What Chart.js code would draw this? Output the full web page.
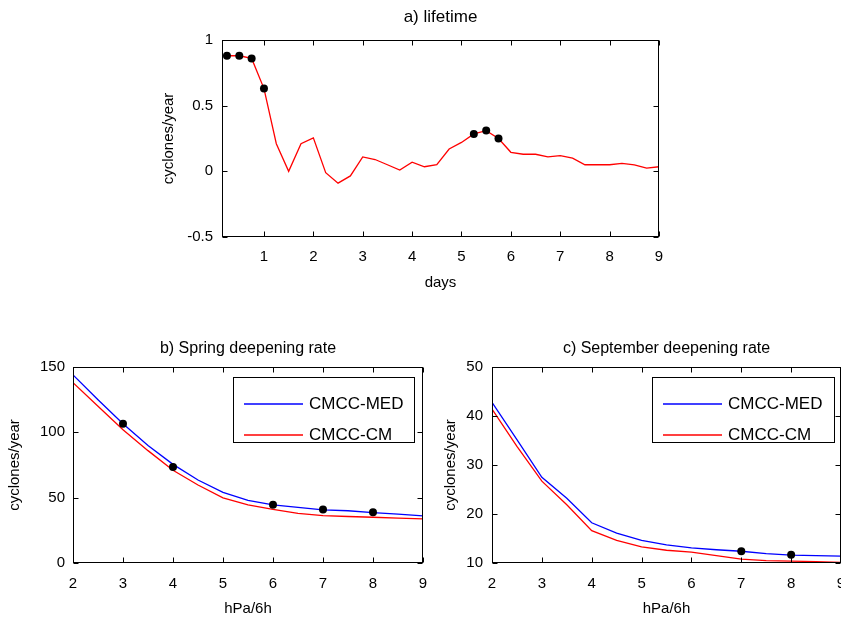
<!DOCTYPE html>
<html>
<head>
<meta charset="utf-8">
<script src="https://cdn.jsdelivr.net/npm/chart.js@4.4.1/dist/chart.umd.min.js"></script>
<style>
  html, body { margin: 0; padding: 0; background: #fff; overflow: hidden; }
  body { position: relative; width: 841px; height: 621px; }
  .panel { position: absolute; }
</style>
</head>
<body>
<div class="panel" style="left:150px; top:0px;"><canvas id="chartLifetime" width="520" height="300"></canvas></div>
<div class="panel" style="left:0px; top:330px;"><canvas id="chartSpring" width="430" height="291"></canvas></div>
<div class="panel" style="left:420px; top:330px;"><canvas id="chartSeptember" width="430" height="291"></canvas></div>

<script>
// === DADOS ===
// a) lifetime (passo de 6 h)
const lifetimeDays = [0.25, 0.5, 0.75, 1, 1.25, 1.5, 1.75, 2, 2.25, 2.5, 2.75, 3,
  3.25, 3.5, 3.75, 4, 4.25, 4.5, 4.75, 5, 5.25, 5.5, 5.75, 6,
  6.25, 6.5, 6.75, 7, 7.25, 7.5, 7.75, 8, 8.25, 8.5, 8.75, 9];
const lifetimeRate = [0.88, 0.88, 0.86, 0.63, 0.21, 0.00, 0.21, 0.255, -0.01, -0.09, -0.035, 0.11,
  0.09, 0.05, 0.01, 0.07, 0.035, 0.05, 0.17, 0.22, 0.285, 0.31, 0.25, 0.145,
  0.13, 0.13, 0.11, 0.12, 0.10, 0.05, 0.05, 0.05, 0.06, 0.05, 0.025, 0.035];
const lifetimeDotDays = [0.25, 0.5, 0.75, 1, 5.25, 5.5, 5.75];
const lifetimeDotRate = lifetimeDotDays.map(d => lifetimeRate[lifetimeDays.indexOf(d)]);
const lifetimeXTicks = [1, 2, 3, 4, 5, 6, 7, 8, 9];
const lifetimeYTicks = [-0.5, 0, 0.5, 1];

// b) e c) deepening rate
const deepRate = [2, 2.5, 3, 3.5, 4, 4.5, 5, 5.5, 6, 6.5, 7, 7.5, 8, 8.5, 9];
const springMed = [144, 125, 106.5, 90, 75.5, 63.5, 54, 48, 44.5, 42.5, 40.7, 40, 38.6, 37.4, 36];
const springCm  = [138, 120, 102, 86, 71, 59.7, 49.8, 44.5, 41, 38, 36.3, 35.6, 35, 34.3, 33.8];
const springDotRate = [3, 4, 6, 7, 8];
const springDotVal  = [106.5, 73.5, 44.5, 41, 38.8];
const springYTicks = [0, 50, 100, 150];

const septMed = [42.8, 35.2, 27.5, 23.2, 18.2, 16.1, 14.6, 13.7, 13.1, 12.7, 12.4, 11.9, 11.6, 11.5, 11.4];
const septCm  = [41.4, 33.8, 26.7, 21.9, 16.6, 14.6, 13.3, 12.6, 12.2, 11.5, 10.8, 10.5, 10.4, 10.3, 10.1];
const septDotRate = [7, 8];
const septDotVal  = [12.4, 11.7];
const septYTicks = [10, 20, 30, 40, 50];

const deepXTicks = [2, 3, 4, 5, 6, 7, 8, 9];

const pts = (xs, ys) => xs.map((x, i) => ({ x: x, y: ys[i] }));

// === ESTILO GERAL ===
Chart.defaults.font.family = "'Liberation Sans', Arial, sans-serif";
Chart.defaults.font.size = 15;
Chart.defaults.color = "#000";
Chart.defaults.animation = false;

// moldura + ticks para dentro (estilo matlab)
const matlabFrame = {
  id: "matlabFrame",
  afterDatasetsDraw(chart) {
    const { ctx, chartArea: a, scales } = chart;
    const L = Math.round(a.left) + 0.5, R = Math.round(a.right) - 0.5;
    const T = Math.round(a.top) + 0.5, B = Math.round(a.bottom) - 0.5;
    ctx.save();
    ctx.strokeStyle = "#000";
    ctx.lineWidth = 1;
    ctx.beginPath();
    scales.x.ticks.forEach(t => {
      const px = Math.round(scales.x.getPixelForValue(t.value)) + 0.5;
      ctx.moveTo(px, B); ctx.lineTo(px, B - 5);
      ctx.moveTo(px, T); ctx.lineTo(px, T + 5);
    });
    scales.y.ticks.forEach(t => {
      const py = Math.round(scales.y.getPixelForValue(t.value)) + 0.5;
      ctx.moveTo(L, py); ctx.lineTo(L + 5, py);
      ctx.moveTo(R, py); ctx.lineTo(R - 5, py);
    });
    ctx.stroke();
    ctx.strokeRect(L, T, R - L, B - T);
    ctx.restore();
  }
};

// legenda em caixa dentro do gráfico
const boxLegend = {
  id: "boxLegend",
  afterDraw(chart, args, opts) {
    if (!opts.show) return;
    const { ctx, chartArea: a } = chart;
    const x0 = a.left + opts.x, y0 = a.top + opts.y;
    const items = chart.data.datasets.filter(d => d.label);
    ctx.save();
    ctx.fillStyle = "#fff";
    ctx.fillRect(x0, y0, opts.w, opts.h);
    ctx.strokeStyle = "#000";
    ctx.lineWidth = 1;
    ctx.strokeRect(Math.round(x0) + 0.5, Math.round(y0) + 0.5, opts.w, opts.h);
    ctx.font = "17px 'Liberation Sans', Arial, sans-serif";
    ctx.textBaseline = "middle";
    items.forEach((d, i) => {
      const y = y0 + opts.rowY[i];
      ctx.strokeStyle = d.borderColor;
      ctx.lineWidth = 1.4;
      ctx.beginPath();
      ctx.moveTo(x0 + 11, y); ctx.lineTo(x0 + 70, y);
      ctx.stroke();
      ctx.fillStyle = "#000";
      ctx.fillText(d.label, x0 + 76, y);
    });
    ctx.restore();
  }
};

function axisOpts(o) {
  return {
    type: "linear",
    min: o.min, max: o.max,
    grid: { display: false, drawTicks: false },
    border: { display: false },
    ticks: { stepSize: o.step, padding: o.tickPad, color: "#000", callback: v => String(v) },
    title: { display: true, text: o.title, color: "#000", padding: o.titlePad },
    afterFit: s => {
      if (s.isHorizontal()) { s.height = o.size; s.paddingLeft = 0; s.paddingRight = 0; }
      else { s.width = o.size; s.paddingTop = 0; s.paddingBottom = 0; }
    },
    afterBuildTicks: s => { s.ticks = o.ticks.map(v => ({ value: v })); }
  };
}

function dotSet(xs, ys) {
  return { type: "scatter", data: pts(xs, ys), order: 0,
    pointRadius: 4, pointBackgroundColor: "#000", pointBorderWidth: 0, showLine: false };
}

function lineSet(label, xs, ys, color, order) {
  return { type: "line", label: label, data: pts(xs, ys), order: order,
    borderColor: color, borderWidth: 1.3, pointRadius: 0, tension: 0, fill: false };
}

// === GRÁFICO a) lifetime ===
new Chart(document.getElementById("chartLifetime"), {
  type: "line",
  data: {
    datasets: [
      dotSet(lifetimeDotDays, lifetimeDotRate),
      lineSet(null, lifetimeDays, lifetimeRate, "#ff0000", 1)
    ]
  },
  options: {
    responsive: false,
    layout: { padding: { left: 0, right: 11, top: 0, bottom: 0 } },
    plugins: {
      legend: { display: false },
      tooltip: { enabled: false },
      title: { display: true, text: "a) lifetime", fullSize: false, color: "#000",
        font: { size: 17, weight: "normal" }, padding: { top: 7, bottom: 12.6 } },
      boxLegend: { show: false }
    },
    scales: {
      x: axisOpts({ min: 0.15, max: 9, step: 1, ticks: lifetimeXTicks, tickPad: 11,
        title: "days", titlePad: { top: 0, bottom: 8 }, size: 63 }),
      y: axisOpts({ min: -0.5, max: 1, step: 0.5, ticks: lifetimeYTicks, tickPad: 9,
        title: "cyclones/year", titlePad: { top: 10, bottom: 0 }, size: 72 })
    }
  },
  plugins: [matlabFrame, boxLegend]
});

// === GRÁFICO b) Spring ===
new Chart(document.getElementById("chartSpring"), {
  type: "line",
  data: {
    datasets: [
      dotSet(springDotRate, springDotVal),
      lineSet("CMCC-MED", deepRate, springMed, "#0000ff", 1),
      lineSet("CMCC-CM", deepRate, springCm, "#ff0000", 2)
    ]
  },
  options: {
    responsive: false,
    layout: { padding: { left: 0, right: 7, top: 0, bottom: 0 } },
    plugins: {
      legend: { display: false },
      tooltip: { enabled: false },
      title: { display: true, text: "b) Spring deepening rate", fullSize: false, color: "#000",
        font: { size: 16, weight: "normal" }, padding: { top: 8.7, bottom: 9.1 } },
      boxLegend: { show: true, x: 160, y: 10, w: 181, h: 65, rowY: [27, 58] }
    },
    scales: {
      x: axisOpts({ min: 2, max: 9, step: 1, ticks: deepXTicks, tickPad: 12,
        title: "hPa/6h", titlePad: { top: 0, bottom: 3 }, size: 58 }),
      y: axisOpts({ min: 0, max: 150, step: 50, ticks: springYTicks, tickPad: 8,
        title: "cyclones/year", titlePad: { top: 6, bottom: 0 }, size: 73 })
    }
  },
  plugins: [matlabFrame, boxLegend]
});

// === GRÁFICO c) September ===
new Chart(document.getElementById("chartSeptember"), {
  type: "line",
  data: {
    datasets: [
      dotSet(septDotRate, septDotVal),
      lineSet("CMCC-MED", deepRate, septMed, "#0000ff", 1),
      lineSet("CMCC-CM", deepRate, septCm, "#ff0000", 2)
    ]
  },
  options: {
    responsive: false,
    layout: { padding: { left: 0, right: 9, top: 0, bottom: 0 } },
    plugins: {
      legend: { display: false },
      tooltip: { enabled: false },
      title: { display: true, text: "c) September deepening rate", fullSize: false, color: "#000",
        font: { size: 16, weight: "normal" }, padding: { top: 8.7, bottom: 9.1 } },
      boxLegend: { show: true, x: 160, y: 10, w: 182, h: 65, rowY: [27, 58] }
    },
    scales: {
      x: axisOpts({ min: 2, max: 9, step: 1, ticks: deepXTicks, tickPad: 12,
        title: "hPa/6h", titlePad: { top: 0, bottom: 3 }, size: 58 }),
      y: axisOpts({ min: 10, max: 50, step: 10, ticks: septYTicks, tickPad: 9,
        title: "cyclones/year", titlePad: { top: 22, bottom: 0 }, size: 72 })
    }
  },
  plugins: [matlabFrame, boxLegend]
});
</script>
</body>
</html>
